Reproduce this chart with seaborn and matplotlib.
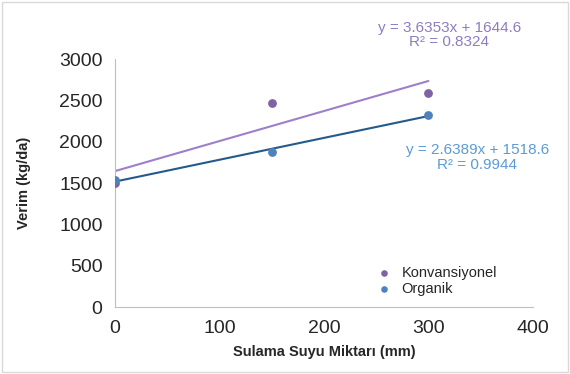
import numpy as np
import matplotlib
matplotlib.use('Agg')
import matplotlib.pyplot as plt
import seaborn as sns
from matplotlib.patches import Rectangle

# data
sulama = [0, 150, 300]
konvansiyonel = [1505, 2470, 2595]
organik = [1535, 1880, 2328]

x_ticks = [0, 100, 200, 300, 400]
y_ticks = [0, 500, 1000, 1500, 2000, 2500, 3000]

eq_konv = "y = 3.6353x + 1644.6\nR² = 0.8324"
eq_org = "y = 2.6389x + 1518.6\nR² = 0.9944"

c_konv = "#8064A2"
c_org = "#4F81BD"
c_konv_line = "#9E7FC9"
c_org_line = "#245A8C"

sns.set_style("white")
plt.rcParams['font.family'] = ['Liberation Sans', 'DejaVu Sans']

fig = plt.figure(figsize=(5.7, 3.74), dpi=100)
ax = fig.add_axes([0.2018, 0.179, 0.733, 0.663])

sns.regplot(x=sulama, y=konvansiyonel, ax=ax, ci=None, truncate=True,
            label="Konvansiyonel",
            scatter_kws=dict(color=c_konv, s=40, alpha=1, zorder=3, linewidths=0),
            line_kws=dict(color=c_konv_line, lw=1.5))
sns.regplot(x=sulama, y=organik, ax=ax, ci=None, truncate=True,
            label="Organik",
            scatter_kws=dict(color=c_org, s=40, alpha=1, zorder=4, linewidths=0),
            line_kws=dict(color=c_org_line, lw=1.5))

ax.set_xlim(0, 400)
ax.set_ylim(0, 3000)
ax.set_xticks(x_ticks)
ax.set_yticks(y_ticks)
ax.tick_params(axis='both', labelsize=14, direction='out', length=5,
               width=0.8, labelcolor='#262626', color='#bfbfbf', pad=4)
for s in ['top', 'right']:
    ax.spines[s].set_visible(False)
for s in ['left', 'bottom']:
    ax.spines[s].set_color('#bfbfbf')
    ax.spines[s].set_linewidth(0.8)

ax.set_xlabel("Sulama Suyu Miktarı (mm)", fontsize=10.5, fontweight='bold', labelpad=6)
ax.set_ylabel("Verim (kg/da)", fontsize=10.5, fontweight='bold', labelpad=20)

ax.text(320, 3290, eq_konv, color="#8E7CC3", fontsize=11, ha='center',
        va='center', multialignment='center', clip_on=False, linespacing=1.05)
ax.text(347, 1810, eq_org, color="#5B9BD5", fontsize=11, ha='center',
        va='center', multialignment='center', clip_on=False, linespacing=1.05)

ax.legend(loc='center left', bbox_to_anchor=(0.595, 0.105), frameon=False,
          fontsize=10.5, handletextpad=0.2, labelspacing=0.1, markerscale=0.75,
          borderaxespad=0)

fig.patches.append(Rectangle((0.003, 0.005), 0.994, 0.99, transform=fig.transFigure,
                             fill=False, edgecolor='#d9d9d9', lw=1))

fig.savefig('out.png', dpi=100)
